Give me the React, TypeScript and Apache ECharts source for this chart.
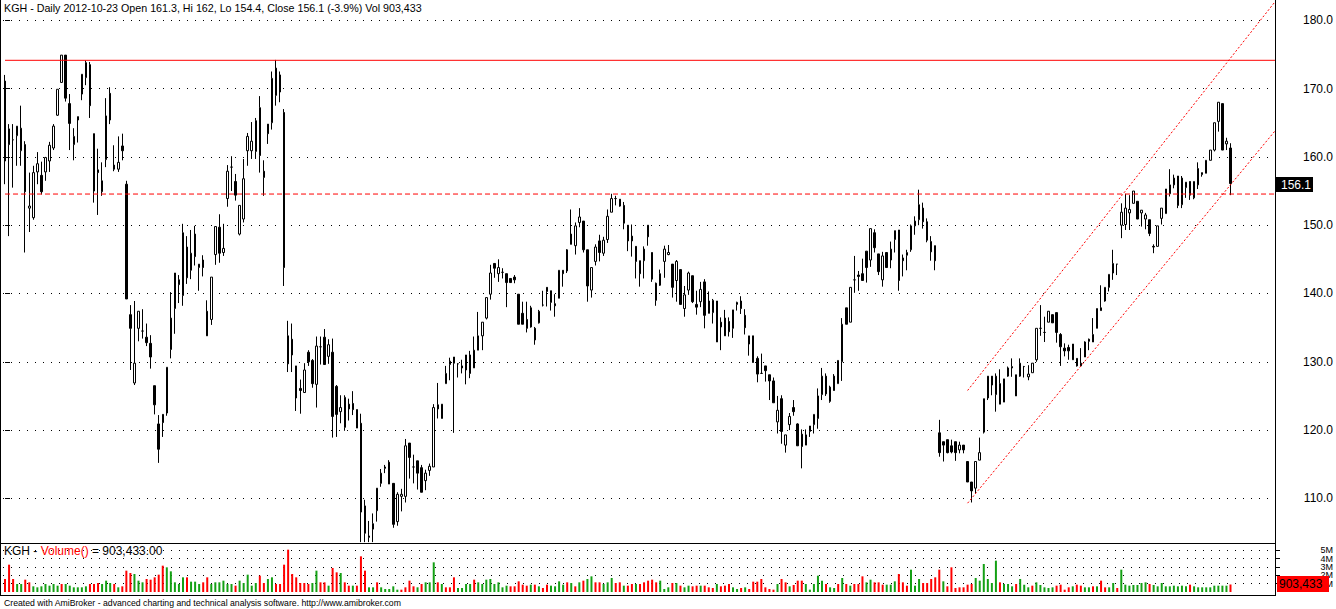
import React, { useEffect, useRef } from "react";
import * as echarts from "echarts";

const titleText = "KGH - Daily 2012-10-23 Open 161.3, Hi 162, Lo 154.4, Close 156.1 (-3.9%) Vol 903,433";
const footerText = "Created with AmiBroker - advanced charting and technical analysis software. http://www.amibroker.com";

const opens = [
  171.1,164.1,162.5,163.1,160.9,161.8,152.5,151.1,157.8,157.3,
  157.8,159.4,161.3,166.1,170.9,174.9,167.8,161.8,165.4,169.2,
  171.6,173.5,163.4,158.1,154.9,159.6,169.3,158.8,158.2,161.6,
  156.0,136.9,126.9,134.9,134.5,133.6,132.7,126.5,120.9,122.3,
  122.5,131.8,137.8,142.0,139.7,146.8,143.4,148.7,143.8,144.9,
  137.4,136.2,145.7,149.7,146.0,153.9,158.5,156.4,148.7,150.9,
  160.9,160.9,160.8,167.2,157.9,164.8,165.0,169.0,172.0,166.5,
  133.8,133.3,129.4,126.1,125.5,131.4,130.2,126.7,132.2,133.6,
  130.8,131.4,126.4,122.7,120.4,123.8,123.9,123.0,121.0,108.9,
  104.5,105.5,108.2,112.2,114.4,115.3,112.2,106.6,110.3,110.3,
  118.1,114.6,115.5,114.5,112.6,114.1,114.6,123.7,121.7,126.8,
  129.6,130.7,129.7,129.4,128.8,131.0,129.1,131.7,133.8,136.4,
  139.9,144.4,142.9,143.1,142.9,142.2,142.4,139.9,137.1,136.2,
  137.9,134.9,135.7,138.3,140.9,140.4,138.5,139.3,143.4,143.3,
  148.7,147.0,150.4,150.6,146.4,140.5,144.7,147.7,145.9,147.9,
  151.9,153.9,153.8,152.9,150.0,148.4,146.9,144.8,144.8,150.0,
  146.0,141.5,141.2,144.7,145.7,144.3,141.9,143.5,137.8,140.5,
  142.6,138.4,138.8,141.7,138.9,137.2,138.9,135.8,136.4,135.9,
  134.9,138.4,138.9,136.8,132.6,133.8,130.5,128.3,129.4,128.1,
  127.2,121.2,124.6,117.8,120.8,123.3,120.9,119.4,119.3,119.8,
  120.8,121.7,125.2,127.9,124.2,127.9,126.8,130.0,137.9,135.8,
  142.0,142.7,142.9,146.2,144.9,148.9,145.8,142.0,146.0,144.9,
  147.9,149.3,145.2,145.6,146.4,149.9,150.8,152.5,150.5,147.6,
  147.0,119.6,118.3,118.6,117.7,118.3,117.1,117.8,115.4,112.4,
  111.5,115.6,119.7,124.7,127.9,125.2,126.8,124.1,127.9,129.1,
  128.1,127.9,129.3,127.8,128.4,130.3,134.9,134.3,135.8,136.9,
  137.2,134.0,132.0,132.1,132.6,130.5,129.4,130.7,133.3,132.9,
  134.9,137.9,138.9,140.9,143.0,144.3,150.0,150.1,151.8,153.2,
  153.5,151.8,150.9,150.8,146.9,146.9,151.0,151.7,154.6,155.9,
  157.2,153.0,155.5,156.4,154.0,155.9,157.4,157.6,159.5,161.0,
  165.2,167.8,161.9,161.3,
];

const closes = [
  159.4,161.8,162.5,164.5,164.2,154.9,152.8,157.7,159.0,154.9,
  159.9,161.7,164.5,169.9,174.9,168.6,164.9,163.0,165.9,172.1,
  173.8,167.5,155.0,157.7,156.5,166.0,165.4,158.2,159.2,160.9,
  139.2,134.9,129.8,137.4,134.5,132.8,130.7,123.7,117.2,121.1,
  129.2,136.4,143.0,141.3,148.9,142.3,145.9,145.4,144.3,143.8,
  133.8,142.4,149.8,145.9,146.6,157.9,158.5,154.4,152.9,156.8,
  163.0,162.3,165.3,160.2,157.0,163.4,171.5,173.0,169.5,143.8,
  129.7,131.0,124.7,125.8,128.8,130.0,126.8,132.3,132.2,129.6,
  132.5,122.0,122.3,123.3,124.8,123.1,123.0,120.3,108.0,104.9,
  104.3,106.3,111.5,113.7,114.6,112.1,106.2,110.6,110.6,117.7,
  116.0,114.6,113.7,110.9,113.7,114.7,123.3,123.1,123.8,128.3,
  130.1,129.8,129.7,129.1,131.0,128.3,131.7,133.8,135.8,139.4,
  143.0,143.7,143.8,143.1,141.6,141.6,142.0,135.5,135.5,134.9,
  135.1,133.2,137.4,138.3,140.3,138.7,138.2,143.4,142.9,146.4,
  147.2,149.9,151.2,146.4,141.1,143.8,146.8,146.0,147.8,151.3,
  153.9,153.9,152.8,150.3,147.7,147.7,144.7,142.9,146.5,148.3,
  142.1,139.0,142.9,146.5,146.0,140.9,144.7,138.4,139.8,143.0,
  138.8,138.0,140.6,136.8,137.1,139.0,132.9,135.1,133.8,134.4,
  137.6,138.7,137.8,135.0,133.8,129.9,128.2,128.3,128.7,127.2,
  124.0,122.9,119.8,119.3,122.0,122.7,117.7,117.6,117.8,120.6,
  122.3,125.0,127.9,125.3,126.3,125.8,130.2,135.5,135.5,140.9,
  142.0,142.5,141.9,143.8,149.5,146.7,143.2,145.5,143.8,146.5,
  149.2,141.9,144.8,146.0,149.9,150.6,153.0,150.5,147.8,146.1,
  144.8,116.7,117.8,116.7,116.8,116.7,117.8,117.1,112.4,111.1,
  115.4,116.7,124.6,127.9,126.6,127.9,123.8,127.5,129.1,129.3,
  125.0,129.8,129.3,128.2,129.8,134.9,134.9,134.3,137.4,135.7,
  134.3,132.2,131.6,131.6,130.3,129.4,129.8,132.9,133.0,134.0,
  137.8,137.5,140.9,142.8,144.4,144.3,151.9,152.5,152.3,155.0,
  150.9,152.2,151.5,148.8,146.8,149.9,152.5,155.3,155.9,156.9,
  152.9,156.9,156.3,154.4,156.4,158.3,157.7,159.5,161.0,165.0,
  168.0,161.0,162.3,156.1,
];

const lows = [
  156.0,148.4,155.5,158.7,158.7,146.0,149.0,150.8,156.0,154.5,
  156.5,157.8,161.0,166.0,170.9,168.1,161.0,159.5,162.1,168.3,
  170.5,165.7,153.3,151.5,154.3,158.5,164.8,157.9,157.8,159.5,
  139.2,128.8,126.6,133.0,133.4,132.3,129.0,122.3,115.2,119.0,
  122.1,130.5,134.1,138.6,138.2,141.4,142.1,144.1,140.4,142.5,
  133.8,135.4,144.2,144.5,145.5,152.7,155.0,153.6,148.5,150.4,
  158.7,159.7,159.7,157.7,154.3,161.9,164.0,167.5,168.0,141.1,
  128.5,128.5,122.8,122.4,125.5,129.4,126.2,123.3,129.6,129.6,
  129.7,118.9,119.0,121.0,119.9,121.4,122.2,120.3,103.6,103.6,
  103.6,103.6,106.6,111.7,113.7,112.1,105.7,106.0,108.1,109.4,
  112.9,112.2,111.3,110.9,111.2,113.3,114.6,121.7,121.7,126.8,
  127.3,119.6,127.7,128.3,126.7,127.6,129.1,131.7,131.7,136.2,
  139.1,142.3,141.7,142.2,138.0,141.6,141.5,135.5,135.5,134.3,
  135.0,132.5,135.6,138.1,138.1,137.5,136.6,139.3,141.0,143.0,
  147.2,145.7,149.7,146.0,138.8,139.4,144.1,144.7,145.5,147.4,
  151.9,152.9,152.7,149.4,146.2,145.4,142.2,141.0,142.2,147.0,
  141.7,138.2,141.1,142.3,145.6,139.4,138.8,138.4,136.6,139.8,
  138.6,136.9,138.0,134.9,137.1,135.6,132.9,131.7,133.8,133.7,
  133.5,137.5,137.0,134.0,130.9,129.9,127.0,128.3,127.1,124.4,
  124.0,119.5,118.0,116.7,120.0,122.1,117.7,114.4,117.8,119.0,
  119.5,120.2,124.4,125.0,124.0,125.8,126.8,127.2,135.5,135.8,
  140.1,140.4,141.9,141.6,143.9,146.0,142.7,141.0,143.8,143.7,
  146.0,140.4,142.5,143.4,146.1,148.6,150.0,149.5,147.5,144.8,
  143.4,116.1,115.4,116.6,116.6,115.5,116.6,116.6,112.4,109.4,
  110.7,115.6,119.5,124.4,125.1,122.7,123.8,124.1,127.8,127.8,
  125.0,127.8,127.7,127.3,128.4,130.0,133.8,132.9,135.8,135.7,
  132.8,129.4,130.8,130.3,130.3,129.3,129.4,130.7,131.7,132.9,
  134.9,137.5,138.8,140.3,142.0,142.7,148.1,149.3,149.3,153.2,
  150.9,149.8,149.4,148.4,145.9,146.9,150.1,151.7,154.2,155.4,
  152.5,152.5,154.0,153.7,153.8,155.3,157.1,157.6,159.5,160.8,
  163.7,161.0,161.0,154.4,
];

const highs = [
  172.0,164.8,164.8,164.5,167.5,162.3,157.7,158.7,160.7,159.3,
  160.0,162.2,164.8,169.9,174.9,174.9,169.2,164.2,165.9,172.1,
  174.1,173.9,163.4,161.2,159.2,168.6,170.2,161.7,163.0,163.4,
  156.5,138.3,138.9,137.4,137.7,135.6,133.9,126.5,122.2,122.3,
  129.2,140.2,143.0,142.7,150.2,148.4,149.3,149.9,144.3,145.6,
  139.0,142.4,149.8,151.6,150.2,158.8,160.1,157.5,152.9,159.7,
  163.5,165.1,165.7,168.9,159.5,164.8,172.5,174.2,172.5,167.0,
  136.0,135.6,129.4,127.4,129.8,131.7,130.4,133.7,133.7,134.8,
  133.3,133.4,126.6,125.1,125.1,124.6,125.7,123.0,122.4,109.8,
  106.7,107.8,111.5,114.3,114.9,115.6,112.2,110.9,111.4,118.7,
  118.1,116.4,115.5,114.9,114.2,115.1,123.8,126.9,123.8,129.4,
  130.6,130.7,129.8,130.3,131.0,131.6,133.7,137.3,135.8,139.4,
  144.2,144.4,145.0,143.7,142.9,142.2,142.7,139.9,138.8,138.8,
  138.2,135.1,137.6,140.4,140.9,140.4,139.9,143.4,143.4,146.5,
  152.3,150.4,152.5,150.6,146.4,143.8,147.2,148.6,148.3,152.3,
  154.6,154.3,153.8,153.4,150.0,150.1,146.9,144.8,146.9,150.0,
  146.0,141.6,143.5,147.0,147.1,144.3,144.9,143.5,141.1,143.2,
  142.6,140.4,141.7,142.1,140.3,139.2,138.9,136.5,137.6,136.5,
  137.6,138.8,139.6,137.7,133.8,133.8,130.8,131.2,129.4,128.1,
  127.7,125.0,125.1,119.3,122.5,124.4,121.0,120.1,120.1,120.6,
  122.3,126.1,129.1,128.3,126.5,128.2,130.2,136.4,137.9,140.9,
  145.5,143.3,145.1,146.2,149.5,149.4,145.8,146.1,146.0,147.6,
  149.2,149.3,145.7,146.4,150.1,151.3,155.2,153.3,151.0,148.4,
  147.0,121.5,118.3,118.6,118.6,118.3,118.3,117.8,115.4,112.4,
  115.4,118.9,124.6,127.9,127.9,128.3,128.9,127.5,129.3,130.5,
  128.1,130.5,129.4,129.5,129.8,134.9,138.3,136.6,137.4,136.9,
  137.2,134.2,132.7,132.5,132.6,130.5,132.0,133.0,133.4,136.4,
  137.8,141.2,140.9,142.8,146.4,144.3,153.2,154.6,154.4,155.0,
  153.5,152.2,151.8,150.8,147.2,149.9,152.5,155.3,158.2,157.4,
  157.2,157.2,156.3,156.4,156.4,159.2,157.7,159.5,161.0,165.0,
  168.0,167.8,162.8,162.0,
];

// volume in millions of shares
const volumesM = [
  1.56,3.28,1.56,0.96,0.96,1.48,1.16,0.68,0.56,0.68,
  0.96,0.76,0.96,0.76,0.96,0.96,0.76,0.56,0.56,0.56,
  0.68,0.96,0.96,1.08,0.96,1.36,1.08,0.96,0.56,0.68,
  2.56,2.28,2.16,1.36,1.16,1.56,1.48,1.76,2.08,3.16,
  2.96,2.48,1.16,0.96,1.76,1.76,1.24,1.24,0.96,1.16,
  1.76,0.96,1.16,1.16,1.36,0.96,0.96,0.76,1.36,1.08,
  2.08,0.76,1.08,1.96,1.08,1.56,1.76,0.96,0.96,3.28,
  5.08,2.16,1.76,1.08,1.08,0.96,1.08,2.56,1.16,1.16,
  0.76,2.88,2.36,2.28,1.16,0.76,0.76,0.76,4.28,2.56,
  0.56,0.56,1.16,0.56,0.36,0.36,0.68,0.28,0.28,0.56,
  1.36,0.68,0.56,0.96,1.16,1.16,3.56,1.16,0.96,0.56,
  0.56,1.76,0.48,0.48,0.96,0.96,1.48,1.16,0.96,1.48,
  1.56,0.96,1.16,0.56,0.76,0.68,0.68,1.28,0.88,0.76,
  0.88,0.88,0.68,0.48,0.88,0.76,0.68,1.28,0.88,1.16,
  1.08,0.68,1.16,1.36,1.56,1.88,1.16,1.16,0.96,1.16,
  1.68,1.08,1.16,0.76,0.76,0.96,0.96,0.96,1.16,1.36,
  1.48,1.16,1.36,0.36,0.56,1.08,1.08,0.76,0.56,0.76,
  0.68,0.76,0.76,0.76,0.56,0.48,0.96,0.68,0.76,0.96,
  0.56,0.36,0.48,0.56,0.36,1.24,1.24,1.56,0.56,0.36,
  0.28,0.96,1.56,1.16,0.68,0.84,1.36,1.36,0.96,0.28,
  0.96,1.96,1.36,0.96,0.56,0.48,0.96,1.68,0.96,0.76,
  0.96,0.96,1.88,1.16,1.48,1.16,1.16,0.88,0.88,0.88,
  1.28,2.16,1.16,0.76,2.68,0.76,1.56,1.08,1.08,1.56,
  1.76,2.68,1.28,0.68,2.96,0.48,0.56,0.56,0.88,0.96,
  1.68,1.36,3.36,1.56,1.08,3.76,1.16,0.96,0.96,0.68,
  0.96,1.56,0.88,0.56,0.76,1.16,0.84,0.56,0.48,0.56,
  0.76,0.88,0.28,0.56,0.68,0.88,0.76,0.56,0.56,0.68,
  0.68,1.36,0.56,0.56,1.08,0.48,2.68,0.88,0.76,0.84,
  0.84,1.08,1.16,0.96,0.84,0.68,1.08,0.68,0.68,0.76,
  0.68,0.76,0.68,0.88,0.68,0.56,0.56,0.56,0.56,0.76,
  0.76,0.76,0.76,0.903433,
];

// u = green bar, d = red bar
const volumeDirs = [
  "d","d","d","u","u","d","d","u","u","u",
  "u","u","u","u","d","u","u","u","u","u",
  "u","d","d","d","u","u","u","d","u","d",
  "d","d","u","u","u","d","d","d","d","d",
  "u","u","u","u","u","d","u","u","u","d",
  "d","u","u","u","u","u","u","d","u","u",
  "u","u","u","d","d","u","u","d","d","d",
  "d","d","d","d","d","d","u","u","d","d",
  "u","d","d","u","d","d","u","d","d","d",
  "u","u","d","u","u","u","u","u","d","d",
  "d","d","u","d","u","u","u","d","u","d",
  "d","d","u","u","u","u","d","u","u","u",
  "u","u","u","u","u","d","d","d","d","d",
  "u","d","u","d","d","u","u","u","u","d",
  "u","d","u","d","u","u","d","d","u","u",
  "u","d","d","u","d","d","u","d","d","d",
  "d","d","u","u","u","d","u","d","u","u",
  "d","d","u","d","d","d","u","d","d","d",
  "u","u","d","u","d","d","d","d","d","d",
  "d","u","d","d","u","d","d","d","u","u",
  "u","u","u","d","u","u","d","u","d","u",
  "d","d","d","u","u","d","d","d","u","u",
  "u","d","d","d","u","u","u","d","d","d",
  "d","d","u","d","d","d","d","d","d","d",
  "u","u","u","u","u","u","d","u","u","u",
  "d","u","u","u","d","u","u","u","u","u",
  "d","d","d","d","u","d","d","u","u","d",
  "u","d","d","u","u","d","u","u","u","u",
  "u","u","u","d","u","u","u","u","u","u",
  "u","u","u","d","u","u","u","u","u","u",
  "u","u","u","d",
];

const priceTicks = [110, 120, 130, 140, 150, 160, 170, 180];
const resistanceLevel = 174.14;
const supportLevel = 154.56;
// [bar index, price]
const channelUpper = [[238, 125.8], [314, 182.7]];
const channelLower = [[238, 109.3], [314, 163.8]];
const lastClose = 156.1;
const lastVolumeM = 0.903433;
const lastVolumeText = "903,433";

const EMPTY_SLOTS = 11;
const FONT = "Arial, 'Liberation Sans', sans-serif";

export default function App() {
  const ref = useRef<HTMLDivElement>(null);

  useEffect(() => {
    if (!ref.current) return;
    const chart = echarts.init(ref.current, null, { renderer: "svg" });
    const nCats = opens.length + EMPTY_SLOTS;
    const categories = Array.from({ length: nCats }, (_, i) => String(i + 1));
    const candleData = opens.map((o, i) => [o, closes[i], lows[i], highs[i]]);
    const volData = volumesM.map((v, i) => ({
      value: v,
      itemStyle: { color: volumeDirs[i] === "u" ? "#14a014" : "#ff0000" },
    }));

    const dotted = { color: "#000", width: 1, type: [1, 7] as any };

    chart.setOption({
      animation: false,
      backgroundColor: "#fff",
      grid: [
        { left: 3, top: 0, width: 1274, height: 566.7 },
        { left: 3, top: 543, width: 1274, height: 49 },
      ],
      xAxis: [
        { type: "category", gridIndex: 0, data: categories, show: false, boundaryGap: true },
        { type: "value", gridIndex: 0, min: -0.5, max: nCats - 0.5, show: false },
        { type: "category", gridIndex: 1, data: categories, show: false, boundaryGap: true },
      ],
      yAxis: [
        {
          type: "value",
          gridIndex: 0,
          position: "right",
          offset: -2,
          min: 100,
          max: 182.97,
          interval: 10,
          axisLine: { show: false },
          axisTick: { show: true, length: 5, lineStyle: { color: "#000" } },
          axisLabel: {
            show: true,
            showMinLabel: false,
            showMaxLabel: false,
            formatter: (v: number) => (priceTicks.includes(v) ? v.toFixed(1) : ""),
            color: "#000",
            fontSize: 12,
            fontFamily: FONT,
            align: "right",
            margin: 58,
          },
          splitLine: { show: true, showMinLine: false, showMaxLine: false, lineStyle: dotted },
        },
        {
          type: "value",
          gridIndex: 1,
          position: "right",
          offset: -2,
          min: 0,
          max: 5.88,
          interval: 1,
          axisLine: { show: false },
          axisTick: { show: true, length: 5, lineStyle: { color: "#000" } },
          axisLabel: {
            show: true,
            showMinLabel: false,
            formatter: (v: number) => (v > 0 ? v + "M" : ""),
            color: "#000",
            fontSize: 9,
            fontFamily: FONT,
            align: "right",
            margin: 58,
          },
          splitLine: { show: true, showMinLine: false, showMaxLine: false, lineStyle: dotted },
        },
      ],
      series: [
        {
          type: "candlestick",
          xAxisIndex: 0,
          yAxisIndex: 0,
          data: candleData,
          barWidth: 2,
          itemStyle: {
            color: "#fff",
            color0: "#000",
            borderColor: "#000",
            borderColor0: "#000",
            borderColorDoji: "#000",
            borderWidth: 1,
          },
          z: 3,
        },
        {
          type: "line",
          xAxisIndex: 1,
          yAxisIndex: 0,
          data: [[0, resistanceLevel], [314, resistanceLevel]],
          symbol: "none",
          lineStyle: { color: "#ff0000", width: 1 },
          z: 4,
        },
        {
          type: "line",
          xAxisIndex: 1,
          yAxisIndex: 0,
          data: [[0, supportLevel], [314, supportLevel]],
          symbol: "none",
          lineStyle: { color: "#ff0000", width: 1, type: [5, 3] },
          z: 4,
        },
        {
          type: "line",
          xAxisIndex: 1,
          yAxisIndex: 0,
          data: channelUpper,
          symbol: "none",
          lineStyle: { color: "#ff0000", width: 1, type: [2, 2] },
          z: 4,
        },
        {
          type: "line",
          xAxisIndex: 1,
          yAxisIndex: 0,
          data: channelLower,
          symbol: "none",
          lineStyle: { color: "#ff0000", width: 1, type: [2, 2] },
          z: 4,
        },
        {
          type: "bar",
          xAxisIndex: 2,
          yAxisIndex: 1,
          data: volData,
          barWidth: 2,
          z: 3,
        },
      ],
    });

    const yPrice = chart.convertToPixel({ yAxisIndex: 0 }, lastClose) as number;
    const yVol = chart.convertToPixel({ yAxisIndex: 1 }, lastVolumeM) as number;

    chart.setOption({
      graphic: {
        elements: [
          { type: "line", shape: { x1: 0.5, y1: 0, x2: 0.5, y2: 596 }, style: { stroke: "#000", lineWidth: 1 }, z: 50 },
          { type: "line", shape: { x1: 1275.5, y1: 0, x2: 1275.5, y2: 596 }, style: { stroke: "#000", lineWidth: 1 }, z: 50 },
          { type: "line", shape: { x1: 0, y1: 543.5, x2: 1275, y2: 543.5 }, style: { stroke: "#000", lineWidth: 1 }, z: 50 },
          { type: "line", shape: { x1: 0, y1: 595.5, x2: 1275, y2: 595.5 }, style: { stroke: "#000", lineWidth: 1 }, z: 50 },
          {
            type: "text",
            x: 4,
            y: 2,
            style: { text: titleText, fill: "#000", font: `10.7px ${FONT}`, textVerticalAlign: "top", verticalAlign: "top" },
            z: 60,
          },
          {
            type: "text",
            x: 4,
            y: 545,
            style: {
              text: "{a|KGH - }{b|Volume()}{a| = 903,433.00}",
              font: `12px ${FONT}`,
              textVerticalAlign: "top",
              verticalAlign: "top",
              rich: {
                a: { fill: "#000", font: `12px ${FONT}` },
                b: { fill: "#ff0000", font: `12px ${FONT}` },
              },
            },
            z: 60,
          },
          {
            type: "text",
            x: 4,
            y: 598,
            style: { text: footerText, fill: "#000", font: `8.7px ${FONT}`, textVerticalAlign: "top", verticalAlign: "top" },
            z: 60,
          },
          {
            type: "rect",
            shape: { x: 1276, y: Math.round(yPrice) - 7, width: 37, height: 15 },
            style: { fill: "#000" },
            z: 60,
          },
          {
            type: "text",
            x: 1281,
            y: Math.round(yPrice) + 0.5,
            style: { text: lastClose.toFixed(1), fill: "#fff", font: `12px ${FONT}`, textVerticalAlign: "middle", verticalAlign: "middle" },
            z: 61,
          },
          {
            type: "rect",
            shape: { x: 1277, y: Math.round(yVol) - 8, width: 52, height: 16 },
            style: { fill: "#ff0000" },
            z: 60,
          },
          {
            type: "text",
            x: 1279,
            y: Math.round(yVol),
            style: { text: lastVolumeText, fill: "#000", font: `12px ${FONT}`, textVerticalAlign: "middle", verticalAlign: "middle" },
            z: 61,
          },
        ],
      },
    });

    return () => chart.dispose();
  }, []);

  return (
    <div
      ref={ref}
      style={{ position: "fixed", left: 0, top: 0, width: 1336, height: 609, background: "#fff" }}
    />
  );
}
